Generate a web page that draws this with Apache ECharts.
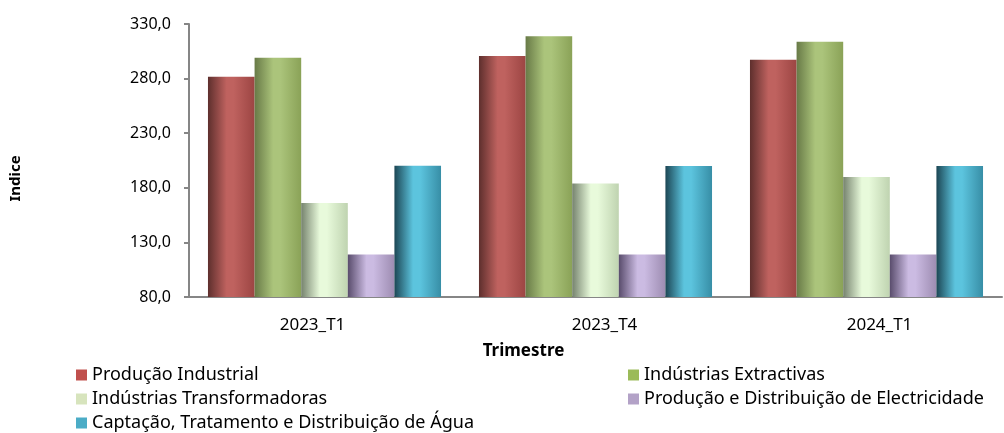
<!DOCTYPE html>
<html style="height: 100%">
<head>
    <meta charset="UTF-8">
    <title>Indice por Trimestre</title>
    <script src="https://cdn.jsdelivr.net/npm/echarts/dist/echarts.min.js"></script>
    <style>
        #main {
            width: 1004px;
            height: 433px;
        }
    </style>
</head>
<body style="height: 100%; margin: 0; background: #fff">
    <div id="main"></div>
    <script type="text/javascript">
        var categories = ['2023_T1', '2023_T4', '2024_T1'];
        var seriesNames = [
            'Produção Industrial',
            'Indústrias Extractivas',
            'Indústrias Transformadoras',
            'Produção e Distribuição de Electricidade',
            'Captação, Tratamento e Distribuição de Água'
        ];
        var producaoIndustrial = [281.6, 300.6, 297.3];
        var industriasExtractivas = [299.1, 318.7, 313.8];
        var industriasTransformadoras = [166.1, 183.9, 190.0];
        var electricidade = [119.0, 119.0, 119.0];
        var agua = [200.1, 200.0, 200.0];
        var yTicks = [80, 130, 180, 230, 280, 330];

        // flat colour for legend, then left / highlight / right for the cylinder shading
        var palette = [
            ['#c0504d', '#5e2f2d', '#bf625f', '#9c4543'],
            ['#9bbb59', '#687a47', '#abc47b', '#8aa257'],
            ['#d7e4bd', '#76836e', '#e8fadb', '#bfd3b0'],
            ['#b3a2c7', '#594c6c', '#cbbbe2', '#9d8cb1'],
            ['#4bacc6', '#1c4654', '#5cc4de', '#378ea6']
        ];
        var values = [producaoIndustrial, industriasExtractivas, industriasTransformadoras, electricidade, agua];

        var font = 'Noto Sans';

        var series = seriesNames.map(function (name, i) {
            var c = palette[i];
            return {
                name: name,
                type: 'bar',
                barGap: '0%',
                barCategoryGap: '14%',
                data: values[i],
                itemStyle: {
                    color: {
                        type: 'linear', x: 0, y: 0, x2: 1, y2: 0,
                        colorStops: [
                            { offset: 0, color: c[1] },
                            { offset: 0.4, color: c[2] },
                            { offset: 0.55, color: c[2] },
                            { offset: 1, color: c[3] }
                        ]
                    }
                }
            };
        });

        var legendItem = function (i) {
            return { name: seriesNames[i], itemStyle: { color: palette[i][0] } };
        };

        var legendCommon = {
            orient: 'vertical',
            icon: 'rect',
            itemWidth: 11,
            itemHeight: 11,
            itemGap: 6,
            padding: 0,
            height: 80,
            selectedMode: false,
            textStyle: { fontFamily: font, fontSize: 18, lineHeight: 18, color: '#000' }
        };

        // the category labels sit a little off their group centres in the original
        var labelRich = {
            c0: { fontFamily: font, fontSize: 17, color: '#000', padding: [0, 24, 0, 0] },
            c1: { fontFamily: font, fontSize: 17, color: '#000', padding: [0, 0, 0, 18] },
            c2: { fontFamily: font, fontSize: 17, color: '#000', padding: [0, 0, 0, 26] }
        };

        var option = {
            animation: false,
            textStyle: { fontFamily: font },
            grid: { left: 186, right: 2, top: 24, bottom: 136 },
            legend: [
                Object.assign({ left: 76, top: 366, data: [legendItem(0), legendItem(2), legendItem(4)] }, legendCommon),
                Object.assign({ left: 628, top: 366, data: [legendItem(1), legendItem(3)] }, legendCommon)
            ],
            xAxis: {
                type: 'category',
                data: categories,
                name: 'Trimestre',
                nameLocation: 'middle',
                nameGap: 46,
                nameTextStyle: { fontFamily: font, fontSize: 17, fontWeight: 'bold', color: '#000', padding: [0, 144, 0, 0] },
                axisLine: { lineStyle: { color: '#868686', width: 2 } },
                axisTick: { show: false },
                axisLabel: {
                    margin: 20,
                    rich: labelRich,
                    formatter: function (v, i) { return '{c' + i + '|' + v + '}'; }
                }
            },
            yAxis: {
                type: 'value',
                min: yTicks[0],
                max: yTicks[yTicks.length - 1],
                interval: 50,
                name: 'Indice',
                nameLocation: 'middle',
                nameGap: 166,
                nameTextStyle: { fontFamily: font, fontSize: 15, fontWeight: 'bold', color: '#000', padding: [0, 36, 0, 0] },
                axisLine: { show: true, lineStyle: { color: '#868686', width: 2 } },
                axisTick: { show: true, inside: false, length: 5, lineStyle: { color: '#868686', width: 2 } },
                splitLine: { show: false },
                axisLabel: {
                    fontFamily: font, fontSize: 16, color: '#000', margin: 18,
                    formatter: function (v) { return v.toFixed(1).replace('.', ','); }
                }
            },
            series: series
        };

        var chart = echarts.init(document.getElementById('main'));
        chart.setOption(option);
    </script>
</body>
</html>
